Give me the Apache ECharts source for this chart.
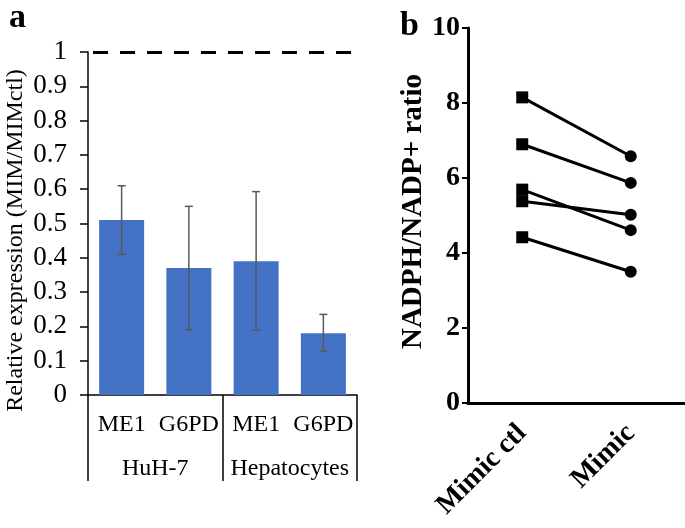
<!DOCTYPE html>
<html>
<head>
<meta charset="utf-8">
<script src="https://cdn.jsdelivr.net/npm/echarts@6/dist/echarts.min.js"></script>
<style>
html,body{margin:0;padding:0;background:#fff;}
#c{width:685px;height:528px;}
</style>
</head>
<body>
<div id="c"></div>
<script>
// Panel a data
const genes = ['ME1', 'G6PD', 'ME1', 'G6PD'];
const cellGroups = ['HuH-7', 'Hepatocytes'];
const expression = [0.51, 0.37, 0.39, 0.18];
const errLow = [0.41, 0.19, 0.19, 0.128];
const errHigh = [0.61, 0.55, 0.593, 0.235];
const referenceLevel = 1;

// Panel b data
const conditions = ['Mimic ctl', 'Mimic'];
const ratioCtl = [8.15, 6.9, 5.69, 5.38, 4.42];
const ratioMimic = [6.58, 5.87, 4.61, 5.02, 3.50];

const serif = 'Liberation Serif, Times New Roman, serif';

const chart = echarts.init(document.getElementById('c'), null, {renderer: 'canvas'});

const pairSeries = ratioCtl.map((v, i) => ({
  type: 'line',
  xAxisIndex: 2,
  yAxisIndex: 1,
  data: [{value: v, symbol: 'rect'}, {value: ratioMimic[i], symbol: 'circle'}],
  symbolSize: 12,
  showSymbol: true,
  lineStyle: {color: '#000', width: 3},
  itemStyle: {color: '#000'},
  z: 3
}));

const option = {
  animation: false,
  backgroundColor: '#fff',
  title: [
    {text: 'a', left: 4, top: -4, textStyle: {fontFamily: serif, fontWeight: 'bold', fontSize: 34, color: '#000'}},
    {text: 'b', left: 395, top: 4, textStyle: {fontFamily: serif, fontWeight: 'bold', fontSize: 34, color: '#000'}}
  ],
  grid: [
    {left: 88, top: 52, width: 269, height: 343},
    {left: 468, top: 28, width: 217, height: 375}
  ],
  xAxis: [
    {
      gridIndex: 0, type: 'category', data: genes,
      axisLine: {lineStyle: {color: '#000', width: 1.5}},
      axisTick: {show: false},
      axisLabel: {fontFamily: serif, fontSize: 24, color: '#000', margin: 18, interval: 0}
    },
    {
      gridIndex: 0, type: 'category', data: cellGroups, position: 'bottom',
      boundaryGap: true,
      axisLine: {show: false},
      axisTick: {show: true, length: 86, interval: 0, lineStyle: {color: '#000', width: 1.5}},
      axisLabel: {fontFamily: serif, fontSize: 24, color: '#000', margin: 62, interval: 0}
    },
    {
      gridIndex: 1, type: 'category', data: conditions, boundaryGap: true,
      axisLine: {lineStyle: {color: '#000', width: 3}},
      axisTick: {alignWithLabel: true, length: 7, lineStyle: {color: '#000', width: 3}},
      axisLabel: {fontFamily: serif, fontSize: 28, fontWeight: 'bold', color: '#000', rotate: 45, margin: 26, interval: 0}
    }
  ],
  yAxis: [
    {
      gridIndex: 0, type: 'value', min: 0, max: 1, interval: 0.1,
      name: 'Relative expression (MIM/MIMctl)', nameLocation: 'middle', nameGap: 60,
      nameTextStyle: {fontFamily: serif, fontSize: 24, color: '#000', padding: [0, 34, 0, 0]},
      axisLine: {show: true, lineStyle: {color: '#000', width: 1.5}},
      axisTick: {show: true, length: 8, lineStyle: {color: '#000', width: 1.5}},
      axisLabel: {fontFamily: serif, fontSize: 27, color: '#000', margin: 21},
      splitLine: {show: false}
    },
    {
      gridIndex: 1, type: 'value', min: 0, max: 10, interval: 2,
      name: 'NADPH/NADP+ ratio', nameLocation: 'middle', nameGap: 36,
      nameTextStyle: {fontFamily: serif, fontSize: 29, fontWeight: 'bold', color: '#000', padding: [0, 0, 0, 8]},
      axisLine: {show: true, lineStyle: {color: '#000', width: 3}},
      axisTick: {show: true, length: 6, lineStyle: {color: '#000', width: 2}},
      axisLabel: {fontFamily: serif, fontSize: 28, fontWeight: 'bold', color: '#000', margin: 8},
      splitLine: {show: false}
    }
  ],
  series: [
    {
      type: 'bar', xAxisIndex: 0, yAxisIndex: 0,
      data: expression, barWidth: 45,
      itemStyle: {color: '#4472C4'},
      markLine: {
        silent: true, symbol: 'none', label: {show: false},
        lineStyle: {color: '#000', width: 3, type: [15, 12], dashOffset: -5},
        data: [{yAxis: referenceLevel}]
      }
    },
    {
      type: 'custom', xAxisIndex: 0, yAxisIndex: 0,
      data: expression.map((v, i) => [i, errLow[i], errHigh[i]]),
      renderItem: function (params, api) {
        const idx = api.value(0);
        const lo = api.coord([idx, api.value(1)]);
        const hi = api.coord([idx, api.value(2)]);
        const hw = 4;
        const st = {stroke: '#595959', lineWidth: 1.5};
        return {
          type: 'group',
          children: [
            {type: 'line', shape: {x1: lo[0], y1: lo[1], x2: hi[0], y2: hi[1]}, style: st},
            {type: 'line', shape: {x1: lo[0] - hw, y1: lo[1], x2: lo[0] + hw, y2: lo[1]}, style: st},
            {type: 'line', shape: {x1: hi[0] - hw, y1: hi[1], x2: hi[0] + hw, y2: hi[1]}, style: st}
          ]
        };
      },
      z: 5
    }
  ].concat(pairSeries)
};
chart.setOption(option);
</script>
</body>
</html>
